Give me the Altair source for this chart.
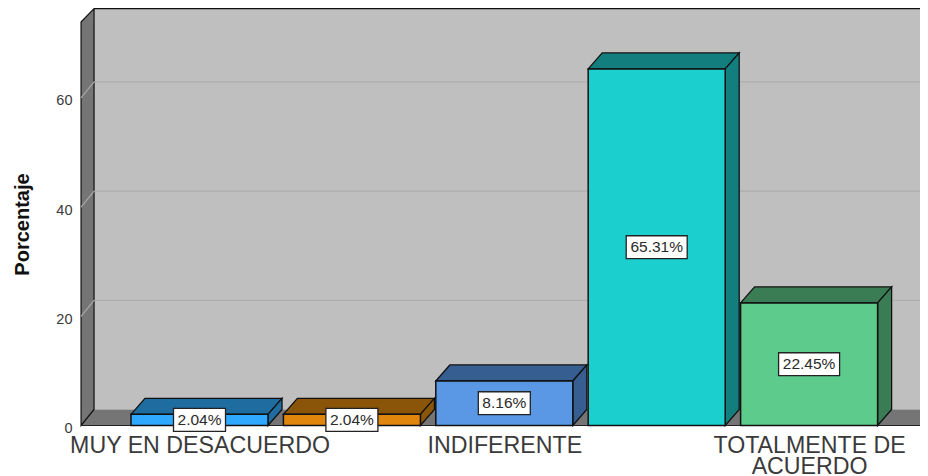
import json
import altair as alt
import pandas as pd

categories = ["MUY EN DESACUERDO", "EN DESACUERDO", "INDIFERENTE", "DE ACUERDO", "TOTALMENTE DE ACUERDO"]
values = [2.04, 2.04, 8.16, 65.31, 22.45]
front_colors = ["#2EA9FF", "#E0860C", "#5A98E6", "#1CCFCF", "#5DCB8C"]
top_colors = ["#1F6DA0", "#8A5508", "#365E90", "#127F7E", "#3A7D55"]
y_ticks = [0, 20, 40, 60]
axis_labels = {0: ["MUY EN DESACUERDO"], 2: ["INDIFERENTE"], 4: ["TOTALMENTE DE", "ACUERDO"]}

# scale limits and 3D depth, in data units
X_MIN, X_MAX = -1.2566, 4.7277
Y_MIN, Y_MAX = -9.25, 76.47
HALF = 0.4495
DX, DY = 0.0919, 2.93
WALL_X = -0.692
WALL_DX = 0.0853
WALL_TOP = 76.35
FRONT_TOP = 73.9
BOX_H = 2.1
PX_X = 152.4

faces = []
def face(fid, col, pts):
    for x, y, y2 in pts:
        faces.append(dict(f=fid, c=col, x=x, y=y, y2=y2))

fronts, boxes = [], []
for i, (v, fc, tc) in enumerate(zip(values, front_colors, top_colors)):
    x0, x1 = i - HALF, i + HALF
    face(f"t{i}", tc, [(x0, v, v), (x0 + DX, v + DY, v), (x1, v + DY, v), (x1 + DX, v + DY, v + DY)])
    face(f"s{i}", tc, [(x1, v, 0), (x1 + DX, v + DY, DY)])
    fronts.append(dict(x=x0, x2=x1, y=0, y2=v, c=fc))
    label = f"{v:.2f}%"
    hw = (26 if v < 10 else 30.5) / PX_X
    boxes.append(dict(x=i - hw, x2=i + hw, y=v / 2 - BOX_H, y2=v / 2 + BOX_H, cx=i, cy=v / 2, t=label))

faces_df = pd.DataFrame(faces)
fronts_df = pd.DataFrame(fronts)
boxes_df = pd.DataFrame(boxes)

xs = alt.Scale(domain=[X_MIN, X_MAX], nice=False, zero=False)
ys = alt.Scale(domain=[Y_MIN, Y_MAX], nice=False, zero=False)

label_js = json.dumps({str(k): v for k, v in axis_labels.items()})
x_axis = alt.Axis(values=list(axis_labels), labelExpr=f"{label_js}[''+datum.value]", title=None, grid=False,
                  domain=False, ticks=False, offset=-42, labelPadding=0, labelFontSize=23.2, labelLimit=400,
                  labelFont="Liberation Sans", labelColor="#3a3a3a", labelBaseline="top", labelLineHeight=21,
                  labelOverlap=False, labelFlush=False, labelBound=False, labelAngle=0)
y_axis = alt.Axis(values=y_ticks, title="Porcentaje", grid=False, domain=False, ticks=False, offset=-64,
                  labelPadding=0, labelFontSize=14.5, labelFont="Liberation Sans", labelColor="#3a3a3a",
                  labelOffset=3, labelOverlap=False, labelBound=False, labelFlush=False, titleFont="Liberation Sans",
                  titleFontSize=20, titleFontWeight="bold", titleColor="#111111", titleX=-50, titleY=216,
                  titleAngle=270, titleAlign="center", titleBaseline="middle")

X = alt.X("x:Q", scale=xs, axis=x_axis)
Y = alt.Y("y:Q", scale=ys, axis=y_axis)

# back wall
wall = alt.Chart(pd.DataFrame([dict(x=WALL_X, x2=X_MAX, y=DY, y2=WALL_TOP)])).mark_rect(color="#BFBFBF").encode(
    x=X, x2="x2:Q", y=Y, y2="y2:Q")
# floor
floor = alt.Chart(pd.DataFrame([dict(x=WALL_X - WALL_DX, y=0, y2=0), dict(x=WALL_X, y=DY, y2=0), dict(x=X_MAX, y=DY, y2=0)])
                  ).mark_area(color="#757575").encode(x=X, y=Y, y2="y2:Q")
# left wall
left = alt.Chart(pd.DataFrame([dict(x=WALL_X - WALL_DX, y=FRONT_TOP, y2=0), dict(x=WALL_X, y=WALL_TOP, y2=DY)])
                 ).mark_area(color="#757575", stroke="#111111", strokeWidth=1.2).encode(x=X, y=Y, y2="y2:Q")
# grid on back wall and side wall
grid_df = pd.DataFrame([dict(x=WALL_X, x2=X_MAX, y=t + DY) for t in y_ticks[1:]])
grid = alt.Chart(grid_df).mark_rule(color="#AEAEAE", strokeWidth=1.2).encode(x=X, x2="x2:Q", y=Y)
diag_df = pd.DataFrame([dict(t=t, x=WALL_X - WALL_DX, y=t) for t in y_ticks[1:]] +
                       [dict(t=t, x=WALL_X, y=t + DY) for t in y_ticks[1:]])
diag = alt.Chart(diag_df).mark_line(color="#A8A8A8", strokeWidth=1.2).encode(x=X, y=Y, detail="t:N")
# wall edges
top_edge = alt.Chart(pd.DataFrame([dict(x=WALL_X, x2=X_MAX, y=WALL_TOP)])).mark_rule(color="#111111", strokeWidth=1.2).encode(
    x=X, x2="x2:Q", y=Y)
base_edge = alt.Chart(pd.DataFrame([dict(x=WALL_X - WALL_DX, x2=X_MAX, y=0)])).mark_rule(color="#222222", strokeWidth=1.2).encode(
    x=X, x2="x2:Q", y=Y)
# bars
sides = alt.Chart(faces_df).mark_area(stroke="#111111", strokeWidth=1.3).encode(
    x=X, y=Y, y2="y2:Q", detail="f:N", color=alt.Color("c:N", scale=None))
front = alt.Chart(fronts_df).mark_rect(stroke="#111111", strokeWidth=1.5).encode(
    x=X, x2="x2:Q", y=Y, y2="y2:Q", color=alt.Color("c:N", scale=None))
box = alt.Chart(boxes_df).mark_rect(color="#FFFFFF", stroke="#222222", strokeWidth=1.3).encode(
    x=X, x2="x2:Q", y=Y, y2="y2:Q")
text = alt.Chart(boxes_df).mark_text(font="Liberation Sans", fontSize=15.5, color="#2a2a2a").encode(
    x=alt.X("cx:Q", scale=xs, axis=x_axis), y=alt.Y("cy:Q", scale=ys, axis=y_axis), text="t:N")

chart = alt.layer(wall, floor, left, grid, diag, top_edge, base_edge, sides, front, box, text).properties(
    width=912, height=468, padding=0, autosize=alt.AutoSizeParams(type="none"), background="#FFFFFF"
).configure_view(stroke=None)

chart.save("out.html", embed_options={"renderer": "svg", "actions": False})
